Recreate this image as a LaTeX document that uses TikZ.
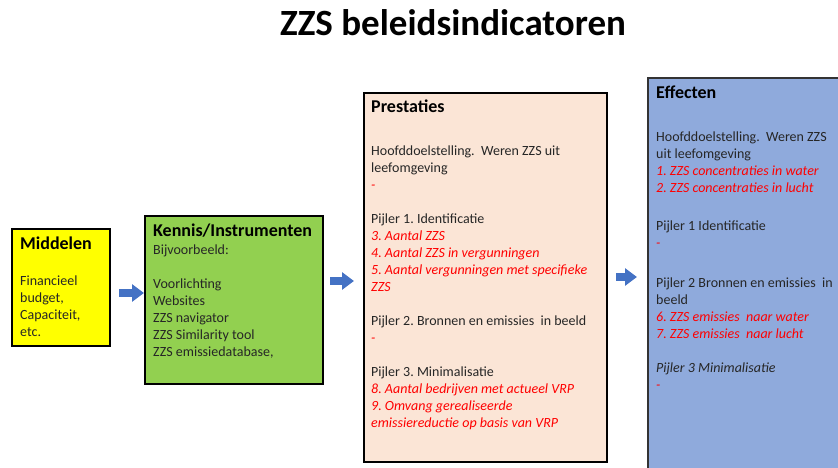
\documentclass[tikz,border=0pt]{standalone}
\usepackage{fontspec}
\setmainfont{Carlito}
\usetikzlibrary{arrows.meta}
\definecolor{geel}{RGB}{255,255,0}
\definecolor{groen}{RGB}{146,208,80}
\definecolor{zalm}{RGB}{251,229,214}
\definecolor{lichtblauw}{RGB}{143,170,220}
\definecolor{pijlblauw}{RGB}{68,114,196}
\definecolor{rood}{RGB}{255,0,0}
\definecolor{tekst}{RGB}{38,38,38}
\newcommand{\indicator}[1]{\textcolor{rood}{\itshape #1}}
\frenchspacing

\begin{document}
\begin{tikzpicture}[x=1pt,y=-1pt,
    vak/.style={draw=black, line width=2.2pt, anchor=north west, inner sep=0pt},
    kop/.style={anchor=base west, inner sep=0pt, font=\fontsize{18}{22}\selectfont\bfseries},
    tekstblok/.style={anchor=base west, inner sep=0pt, align=left, text=tekst, font=\fontsize{14}{17}\selectfont},
    pijl/.style={line width=8pt, pijlblauw, -{Triangle[length=12pt,width=17pt]}}]
  \useasboundingbox (0,0) rectangle (838,468);
  \clip (0,0) rectangle (838,468);

  % Titel
  \node[anchor=base, inner sep=0pt, font=\fontsize{37}{42}\selectfont\bfseries] (titel) at (453,36) {ZZS beleidsindicatoren};

  % Vakken
  \node[vak, fill=geel, minimum width=98pt, minimum height=117pt] (middelen) at (11,228) {};
  \node[vak, fill=groen, minimum width=178pt, minimum height=168pt] (kennis) at (144,215) {};
  \node[vak, fill=zalm, minimum width=243pt, minimum height=369pt] (prestaties) at (363,92) {};
  \node[vak, draw=black!80, fill=lichtblauw, minimum width=220pt, minimum height=420pt] (effecten) at (647,77) {};

  % Middelen (tekstblokken staan op de basislijn van hun laatste regel)
  \node[kop] (middelenkop) at (20,249) {Middelen};
  \node[tekstblok] (middelentekst) at (20,336) {Financieel\\ budget,\\ Capaciteit,\\ etc.};

  % Kennis/Instrumenten
  \node[kop] (kenniskop) at (153,236) {Kennis/Instrumenten};
  \node[tekstblok] (kennistekst) at (153,356) {Bijvoorbeeld:\\[17pt]
    Voorlichting\\ Websites\\ ZZS navigator\\ ZZS Similarity tool\\ ZZS emissiedatabase,};

  % Prestaties
  \node[kop] (prestatieskop) at (371,113) {Prestaties};
  \node[tekstblok] (prestatiestekst) at (371,427) {Hoofddoelstelling.\ \ Weren ZZS uit\\ leefomgeving\\ \indicator{-}\\[17pt]
    Pijler 1. Identificatie\\ \indicator{3. Aantal ZZS}\\ \indicator{4. Aantal ZZS in vergunningen}\\
    \indicator{5. Aantal vergunningen met specifieke}\\ \indicator{ZZS}\\[17pt]
    Pijler 2. Bronnen en emissies\ \ in beeld\\ \indicator{-}\\[17pt]
    Pijler 3. Minimalisatie\\ \indicator{8. Aantal bedrijven met actueel VRP}\\
    \indicator{9. Omvang gerealiseerde}\\ \indicator{emissiereductie op basis van VRP}};

  % Effecten
  \node[kop] (effectenkop) at (656,99) {Effecten};
  \node[tekstblok] (hoofddoel) at (656,192) {Hoofddoelstelling.\ \ Weren ZZS\\ uit leefomgeving\\
    \indicator{1. ZZS concentraties in water}\\ \indicator{2. ZZS concentraties in lucht}};
  \node[tekstblok] (pijler1) at (656,247) {Pijler 1 Identificatie\\ \indicator{-}};
  \node[tekstblok] (pijler2) at (656,338) {Pijler 2 Bronnen en emissies\ \ in\\ beeld\\
    \indicator{6. ZZS emissies\ \ naar water}\\ \indicator{7. ZZS emissies\ \ naar lucht}};
  \node[tekstblok] (pijler3) at (656,389) {\textit{Pijler 3 Minimalisatie}\\ \indicator{-}};

  % Pijlen
  \draw[pijl, shorten <=8pt] (middelen.east |- 0,293) -- (kennis.west |- 0,293);
  \draw[pijl, shorten <=6pt, shorten >=9pt] (kennis.east |- 0,281) -- (prestaties.west |- 0,281);
  \draw[pijl, shorten <=8pt, shorten >=10pt] (prestaties.east |- 0,277) -- (effecten.west |- 0,277);
\end{tikzpicture}
\end{document}
